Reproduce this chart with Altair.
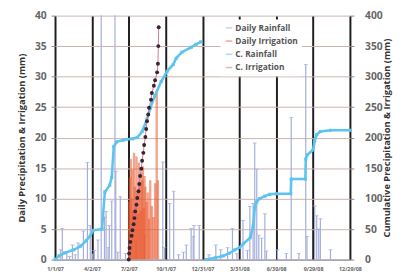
import altair as alt
import pandas as pd

# ---------------- data ----------------
tick_dates = ["2007-01-01", "2007-04-02", "2007-07-02", "2007-10-01", "2007-12-31",
              "2008-03-31", "2008-06-30", "2008-09-29", "2008-12-29"]

rain_dates = ["2007-01-15", "2007-01-19", "2007-01-30", "2007-02-06", "2007-02-13", "2007-02-20",
              "2007-02-27", "2007-03-12", "2007-03-22", "2007-03-29", "2007-04-04", "2007-04-08",
              "2007-04-17", "2007-04-25", "2007-05-03", "2007-05-07", "2007-05-12", "2007-05-15",
              "2007-05-21", "2007-05-29", "2007-05-31", "2007-06-05", "2007-06-11", "2007-06-24",
              "2007-07-20", "2007-08-10", "2007-09-24", "2007-09-28", "2007-10-11", "2007-10-21",
              "2007-11-02", "2007-11-14", "2007-11-21", "2007-12-03", "2007-12-08", "2007-12-10",
              "2007-12-23", "2008-01-16", "2008-02-02", "2008-02-14", "2008-03-02", "2008-03-14",
              "2008-03-25", "2008-04-09", "2008-04-20", "2008-04-26", "2008-05-04", "2008-05-08",
              "2008-05-13", "2008-05-18", "2008-05-25", "2008-06-02", "2008-06-06", "2008-07-03",
              "2008-07-25", "2008-08-06", "2008-08-25", "2008-09-11", "2008-09-14", "2008-10-03",
              "2008-10-08", "2008-10-13", "2008-10-17", "2008-11-11"]
rain_mm = [1.6, 5.1, 1.1, 0.5, 2.4, 0.8,
           2.7, 4.7, 15.9, 5.6, 0.9, 1.5,
           3.2, 48.0, 7.0, 7.9, 2.0, 5.6,
           9.6, 45.0, 14.5, 1.2, 10.3, 1.0,
           3.0, 4.0, 16.0, 2.0, 9.2, 11.2,
           0.8, 1.2, 2.4, 5.1, 3.8, 5.6,
           5.6, 0.8, 2.4, 1.6, 2.0, 5.1,
           1.0, 6.4, 1.5, 8.7, 9.2, 19.1,
           14.8, 4.0, 3.5, 7.5, 1.4, 1.6,
           1.0, 23.3, 1.0, 32.0, 3.8, 8.8,
           7.2, 5.0, 6.7, 1.6]

irr_dates = ["2007-07-03", "2007-07-05", "2007-07-07", "2007-07-09", "2007-07-11", "2007-07-13",
             "2007-07-15", "2007-07-17", "2007-07-19", "2007-07-21", "2007-07-23", "2007-07-25",
             "2007-07-27", "2007-07-29", "2007-07-31", "2007-08-02", "2007-08-04", "2007-08-06",
             "2007-08-08", "2007-08-10", "2007-08-12", "2007-08-15", "2007-08-18", "2007-08-21",
             "2007-08-24", "2007-08-28", "2007-09-01", "2007-09-05", "2007-09-09", "2007-09-12"]
irr_mm = [9.5, 13.5, 16.5, 10.0, 14.8, 8.0,
          17.5, 12.0, 8.5, 16.9, 11.0, 7.5,
          15.9, 12.5, 8.0, 14.3, 13.0, 15.3,
          8.5, 13.7, 12.0, 9.5, 11.0, 6.7,
          13.0, 8.8, 7.0, 12.5, 27.6, 13.0]

crain_dates = ["2007-01-01", "2007-01-11", "2007-01-25", "2007-02-16", "2007-03-05", "2007-03-19",
               "2007-03-29", "2007-04-05", "2007-04-27", "2007-05-04", "2007-05-16", "2007-05-21",
               "2007-05-26", "2007-06-02", "2007-06-19", "2007-07-11", "2007-07-23", "2007-08-04",
               "2007-08-16", "2007-08-24", "2007-09-04", "2007-09-20", "2007-10-05", "2007-10-20",
               "2007-10-27", "2007-11-10", "2007-12-03", "2007-12-15", "2007-12-27",
               "2008-01-10", "2008-02-01", "2008-02-20", "2008-03-05", "2008-03-20", "2008-04-01",
               "2008-04-10", "2008-04-27", "2008-05-04", "2008-05-08", "2008-05-13", "2008-05-20",
               "2008-06-02", "2008-06-14", "2008-07-01", "2008-08-05", "2008-08-06", "2008-09-10",
               "2008-09-11", "2008-09-15", "2008-09-29", "2008-10-03", "2008-10-08", "2008-10-17",
               "2008-11-11", "2008-12-29"]
crain_mm = [0, 6, 11, 16, 22, 31,
            39, 48, 50, 111, 122, 135,
            185, 193, 196, 198, 200, 210,
            230, 248, 268, 292, 309, 320,
            330, 340, 348, 353, 357,
            0, 3, 6, 10, 16, 20,
            26, 36, 55, 85, 95, 100,
            104, 107, 108, 108, 132, 132,
            165, 172, 180, 195, 205, 210,
            212, 212]

cirr_dates = ["2007-07-02", "2007-07-03", "2007-07-04", "2007-07-06", "2007-07-09", "2007-07-11",
              "2007-07-14", "2007-07-16", "2007-07-18", "2007-07-21", "2007-07-23", "2007-07-26",
              "2007-07-28", "2007-07-30", "2007-08-02", "2007-08-04", "2007-08-07", "2007-08-09",
              "2007-08-12", "2007-08-14", "2007-08-16", "2007-08-19", "2007-08-21", "2007-08-26",
              "2007-08-28", "2007-09-02", "2007-09-05", "2007-09-10", "2007-09-12", "2007-09-13",
              "2007-09-14"]
cirr_mm = [0, 10, 19, 29, 39, 48,
           58, 68, 79, 90, 101, 112,
           124, 137, 149, 162, 175, 188,
           201, 214, 227, 238, 249, 262,
           273, 285, 294, 307, 321, 350,
           381]

series_names = ["Daily Rainfall", "Daily Irrigation", "C. Rainfall", "C. Irrigation"]
series_colors = ["#a3addb", "#ea5a30", "#5cc4ee", "#d27a90"]

# ---------------- tables ----------------
rain_df = pd.DataFrame({"date": rain_dates, "mm": rain_mm, "series": series_names[0]})
irr_df = pd.DataFrame({"date": irr_dates, "mm": irr_mm, "series": series_names[1]})
crain_df = pd.DataFrame({"date": crain_dates, "mm": crain_mm, "series": series_names[2]})
crain_df["season"] = crain_df["date"].str[:4]
cirr_df = pd.DataFrame({"date": cirr_dates, "mm": cirr_mm, "series": series_names[3]})


def dt(s):
    y, m, d = (int(v) for v in s.split("-"))
    return alt.DateTime(year=y, month=m, date=d, utc=True)


FONT = "Open Sans"

x_enc = alt.X(
    "date:T",
    scale=alt.Scale(type="utc", domain=[dt(tick_dates[0]), dt(tick_dates[-1])], nice=False),
    axis=alt.Axis(values=[dt(s) for s in tick_dates],
                  labelExpr="utcFormat(datum.value, '%-m/%-d/%y')",
                  title=None, grid=True, gridColor="#1e1e1e", gridWidth=2, ticks=False,
                  labelFontSize=5.5, labelColor="#666", labelFontWeight="bold", labelPadding=7,
                  labelFlush=False, labelOverlap=False, domainColor="#7d7f9c", labelFont=FONT),
)

y_left = alt.Y(
    "mm:Q",
    scale=alt.Scale(domain=[0, 40], nice=False),
    axis=alt.Axis(values=list(range(0, 41, 5)), title="Daily Precipitation & Irrigation (mm)",
                  gridColor="#cbb3ab", domain=False, tickColor="#888", tickSize=4,
                  labelPadding=5, labelFontSize=10.5, labelFontWeight="bold", labelColor="#666",
                  labelFont=FONT, titleFont=FONT, titleFontSize=9.5, titleFontWeight="bold",
                  titleColor="#333", titlePadding=8),
)

y_right = alt.Y(
    "mm:Q",
    scale=alt.Scale(domain=[0, 400], nice=False),
    axis=alt.Axis(orient="right", values=list(range(0, 401, 50)),
                  title="Cumulative Precipitation & Irrigation (mm)", grid=False, domain=False,
                  tickColor="#888", tickSize=4, labelPadding=11, labelFontSize=10.5,
                  labelFontWeight="bold", labelColor="#666", labelFont=FONT, titleFont=FONT,
                  titleFontSize=9.5, titleFontWeight="bold", titleColor="#333", titleAngle=270,
                  titlePadding=9),
)

color_enc = alt.Color(
    "series:N",
    scale=alt.Scale(domain=series_names, range=series_colors),
    legend=alt.Legend(orient="none", legendX=169, legendY=4, title=None, fillColor="white",
                      padding=4, symbolType="stroke", symbolSize=45, symbolStrokeWidth=1.5,
                      labelFontSize=8.5, labelFontWeight="bold", labelColor="#555",
                      labelFont=FONT, rowPadding=4.5, labelOffset=2),
)

rain_rules = alt.Chart(rain_df).mark_rule(strokeWidth=1.2, clip=True).encode(
    x=x_enc, y=y_left, y2=alt.datum(0), color=color_enc)
rain_caps = alt.Chart(rain_df).mark_tick(orient="horizontal", size=4, thickness=1,
                                          color="#a3addb", clip=True).encode(x=x_enc, y=y_left)
irr_bars = alt.Chart(irr_df).mark_rule(strokeWidth=2.4, opacity=0.55, clip=True).encode(
    x=x_enc, y=y_left, y2=alt.datum(0), color=color_enc)

left = alt.layer(rain_rules, rain_caps, irr_bars)

crain_line = alt.Chart(crain_df).mark_line(strokeWidth=2.6).encode(
    x=x_enc, y=y_right, detail="season:N", color=color_enc)
crain_pts = alt.Chart(crain_df).mark_point(shape="square", filled=True, size=10, opacity=1,
                                           color="#5cc4ee").encode(x=x_enc, y=y_right)
cirr_line = alt.Chart(cirr_df).mark_line(strokeWidth=1).encode(
    x=x_enc, y=y_right, color=color_enc)
cirr_pts = alt.Chart(cirr_df).mark_point(shape="circle", filled=True, size=16, opacity=1,
                                         color="#3a2234").encode(x=x_enc, y=y_right)

right = alt.layer(crain_line, crain_pts, cirr_line, cirr_pts)

chart = alt.layer(left, right).resolve_scale(y="independent").properties(
    width=301, height=249,
    padding={"left": 48, "top": 5, "right": 46, "bottom": 15},
    autosize=alt.AutoSizeParams(type="none"),
    background="white",
).configure_view(stroke=None)

chart.save("out.html", embed_options={"renderer": "svg", "actions": False})
